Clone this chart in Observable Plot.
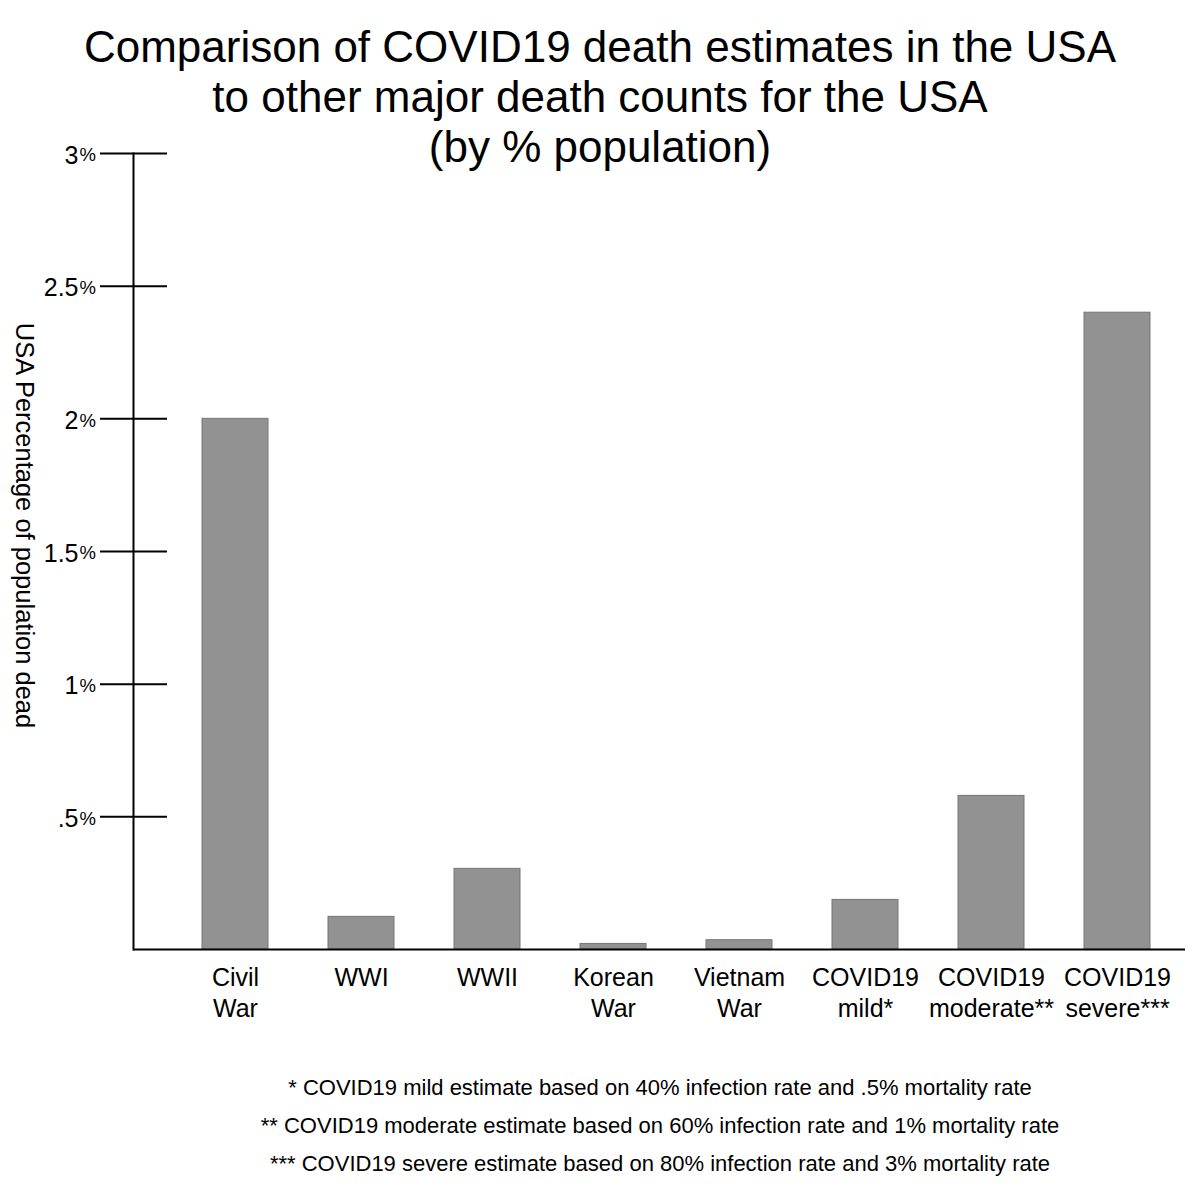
<!DOCTYPE html>
<html>
<head>
<meta charset="utf-8">
<script src="https://cdn.jsdelivr.net/npm/d3@7"></script>
<script src="https://cdn.jsdelivr.net/npm/@observablehq/plot@0.6"></script>
<style>
  body { margin: 0; background: #fff; font-family: "Liberation Sans", Arial, sans-serif; }
  #wrap { position: relative; width: 1200px; height: 1185px; overflow: hidden; }
  #title { position: absolute; left: 0; top: 22px; width: 1200px; text-align: center;
           font-size: 44px; line-height: 50px; color: #000; pointer-events: none; }
  #notes { position: absolute; left: 160px; top: 1069px; width: 1000px; text-align: center;
           font-size: 22px; line-height: 38px; color: #000; }
  #chart svg { display: block; }
</style>
</head>
<body>
<div id="wrap">
  <div id="chart"></div>
  <div id="title"></div>
  <div id="notes"></div>
</div>
<script>
const categories = ["Civil War", "WWI", "WWII", "Korean War", "Vietnam War", "COVID19 mild*", "COVID19 moderate**", "COVID19 severe***"];
const categoryLabels = ["Civil\nWar", "WWI", "WWII", "Korean\nWar", "Vietnam\nWar", "COVID19\nmild*", "COVID19\nmoderate**", "COVID19\nsevere***"];
const deathPct = [2.0, 0.123, 0.304, 0.021, 0.035, 0.187, 0.579, 2.40];
const yTicks = [0.5, 1, 1.5, 2, 2.5, 3];
const yTickLabels = [".5", "1", "1.5", "2", "2.5", "3"];
const yLabel = "USA Percentage of population dead";
const titleLines = [
  "Comparison of COVID19 death estimates in the USA",
  "to other major death counts for the USA",
  "(by % population)"
];
const footnotes = [
  "* COVID19 mild estimate based on 40% infection rate and .5% mortality rate",
  "** COVID19 moderate estimate based on 60% infection rate and 1% mortality rate",
  "*** COVID19 severe estimate based on 80% infection rate and 3% mortality rate"
];

const data = categories.map((c, i) => ({category: c, value: deathPct[i]}));
const labelMap = new Map(categories.map((c, i) => [c, categoryLabels[i]]));
const tickData = yTicks.map((v, i) => ({v, label: yTickLabels[i]}));

const W = 1200, H = 1185, mL = 133, mR = 15, mT = 153, mB = 236;

const chart = Plot.plot({
  width: W,
  height: H,
  marginTop: mT,
  marginBottom: mB,
  marginLeft: mL,
  marginRight: mR,
  style: {fontFamily: "'Liberation Sans', Arial, sans-serif", background: "#fff", color: "#000"},
  x: {domain: categories, range: [201, 1150], paddingInner: 0.477, paddingOuter: 0},
  y: {domain: [0, 3], axis: null},
  marks: [
    Plot.rectY(data, {x: "category", y: "value", fill: "#929292", stroke: "#767676", strokeWidth: 1}),
    Plot.ruleY(yTicks, {insetLeft: -33, insetRight: (W - mR) - (mL + 34), stroke: "#000", strokeWidth: 2}),
    Plot.frame({anchor: "left", stroke: "#000", strokeWidth: 2}),
    Plot.ruleY([0], {stroke: "#000", strokeWidth: 2}),
    Plot.text(tickData, {y: "v", text: "label", frameAnchor: "left", textAnchor: "end", dx: -55, dy: 2, fontSize: 25, fill: "#000"}),
    Plot.text(tickData, {y: "v", text: () => "%", frameAnchor: "left", textAnchor: "start", dx: -54, dy: 2, fontSize: 18.5, fill: "#000"}),
    Plot.axisX({tickSize: 0, tickPadding: 15, fontSize: 25, lineHeight: 1.23, tickFormat: d => labelMap.get(d), label: null, fill: "#000"}),
    Plot.text([yLabel], {frameAnchor: "left", textAnchor: "middle", rotate: 90, dx: -109, dy: -26, fontSize: 25.5, fill: "#000"})
  ]
});
document.getElementById("chart").appendChild(chart);
document.getElementById("title").innerHTML = titleLines.map(t => `<div>${t}</div>`).join("");
document.getElementById("notes").innerHTML = footnotes.map(t => `<div>${t}</div>`).join("");
</script>
</body>
</html>
